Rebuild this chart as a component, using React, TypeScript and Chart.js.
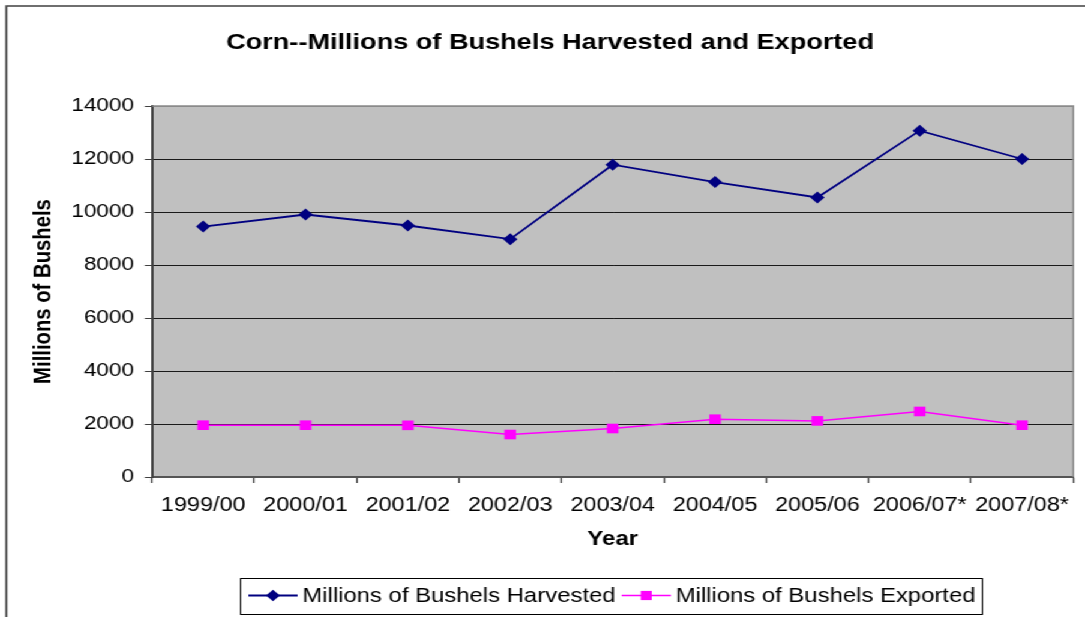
import React, { useEffect, useRef } from 'react';
import { Chart, registerables } from 'chart.js';

Chart.register(...registerables);

const chartTitle = 'Corn--Millions of Bushels Harvested and Exported';
const years = ['1999/00', '2000/01', '2001/02', '2002/03', '2003/04', '2004/05', '2005/06', '2006/07*', '2007/08*'];
const harvested = [9450, 9905, 9490, 8975, 11785, 11130, 10548, 13070, 12000];
const exported = [1955, 1955, 1950, 1603, 1830, 2181, 2117, 2473, 1955];
const seriesNames = ['Millions of Bushels Harvested', 'Millions of Bushels Exported'];
const seriesColors = ['#000080', '#FF00FF'];
const yAxisTitle = 'Millions of Bushels';
const xAxisTitle = 'Year';
const yMin = 0;
const yMax = 14000;
const yStep = 2000;

const FONT = '"Liberation Sans", Arial, Helvetica, sans-serif';
const CANVAS_W = 904;
const CANVAS_H = 617;
const STRETCH = 1085 / CANVAS_W;

function drawMarker(ctx: CanvasRenderingContext2D, kind: string, x: number, y: number, color: string) {
  ctx.fillStyle = color;
  ctx.beginPath();
  if (kind === 'diamond') {
    const r = 5.8;
    ctx.moveTo(x, y - r);
    ctx.lineTo(x + r, y);
    ctx.lineTo(x, y + r);
    ctx.lineTo(x - r, y);
    ctx.closePath();
  } else {
    const s = 4.6;
    ctx.rect(x - s, y - s, 2 * s, 2 * s);
  }
  ctx.fill();
}

const decorations = {
  id: 'decorations',
  beforeDraw(chart: any) {
    const { ctx, chartArea: a } = chart;
    ctx.save();
    ctx.fillStyle = '#ffffff';
    ctx.fillRect(0, 0, chart.width, chart.height);
    ctx.fillStyle = '#C0C0C0';
    ctx.fillRect(a.left, a.top, a.right - a.left, a.bottom - a.top);
    // outer frame (left and top edges)
    ctx.strokeStyle = '#404040';
    ctx.lineWidth = 1.7;
    ctx.beginPath();
    ctx.moveTo(5.3, chart.height + 4);
    ctx.lineTo(5.3, 6);
    ctx.lineTo(chart.width + 4, 6);
    ctx.stroke();
    // title
    ctx.fillStyle = '#000';
    ctx.font = `bold 22.6px ${FONT}`;
    ctx.textAlign = 'center';
    ctx.textBaseline = 'alphabetic';
    ctx.fillText(chartTitle, 458.3, 48.8);
    ctx.restore();
  },
  beforeDatasetsDraw(chart: any) {
    const { ctx, chartArea: a } = chart;
    ctx.save();
    ctx.strokeStyle = '#8a8a8a';
    ctx.lineWidth = 1.5;
    ctx.beginPath();
    ctx.moveTo(a.left, a.top);
    ctx.lineTo(a.right, a.top);
    ctx.lineTo(a.right, a.bottom);
    ctx.stroke();
    ctx.restore();
  },
  afterDraw(chart: any) {
    const { ctx } = chart;
    ctx.save();
    // legend box
    ctx.strokeStyle = '#000';
    ctx.lineWidth = 1;
    ctx.strokeRect(200.5, 578.5, 618, 36);
    ctx.font = `19.9px ${FONT}`;
    ctx.textAlign = 'left';
    ctx.textBaseline = 'alphabetic';
    let x = 207;
    const yc = 595.5;
    const kinds = ['diamond', 'square'];
    seriesNames.forEach((name, i) => {
      ctx.strokeStyle = seriesColors[i];
      ctx.lineWidth = i === 0 ? 1.8 : 1.5;
      ctx.beginPath();
      ctx.moveTo(x, yc);
      ctx.lineTo(x + 41, yc);
      ctx.stroke();
      drawMarker(ctx, kinds[i], x + 20.5, yc, seriesColors[i]);
      ctx.fillStyle = '#000';
      ctx.fillText(name, x + 45, 601.8);
      x += 45 + ctx.measureText(name).width + 5;
    });
    ctx.restore();
  },
};

export default function App() {
  const canvasRef = useRef<HTMLCanvasElement | null>(null);

  useEffect(() => {
    const canvas = canvasRef.current;
    if (!canvas) return;
    Chart.defaults.font.family = FONT;
    const chart = new Chart(canvas, {
      type: 'line',
      data: {
        labels: years,
        datasets: [
          {
            label: seriesNames[0],
            data: harvested,
            borderColor: seriesColors[0],
            backgroundColor: seriesColors[0],
            borderWidth: 1.8,
            pointStyle: 'rectRot',
            pointRadius: 6,
            pointBorderWidth: 0,
            pointBackgroundColor: seriesColors[0],
            tension: 0,
            fill: false,
          },
          {
            label: seriesNames[1],
            data: exported,
            borderColor: seriesColors[1],
            backgroundColor: seriesColors[1],
            borderWidth: 1.5,
            pointStyle: 'rect',
            pointRadius: 6.8,
            pointBorderWidth: 0,
            pointBackgroundColor: seriesColors[1],
            tension: 0,
            fill: false,
          },
        ],
      },
      options: {
        responsive: false,
        animation: false,
        devicePixelRatio: 1,
        layout: { padding: { left: 10, top: 106, right: 9.8, bottom: 60 } },
        plugins: {
          legend: { display: false },
          title: { display: false },
          tooltip: { enabled: false },
        },
        scales: {
          x: {
            type: 'category',
            offset: true,
            grid: {
              offset: true,
              drawOnChartArea: false,
              drawTicks: true,
              tickLength: 6,
              tickColor: '#404040',
              tickWidth: 1.3,
            },
            border: { color: '#555555', width: 2 },
            ticks: { color: '#000', font: { size: 19.5 }, padding: 11, maxRotation: 0, autoSkip: false },
            title: {
              display: true,
              text: xAxisTitle,
              color: '#000',
              font: { size: 20, weight: 'bold' },
              padding: { top: 0, bottom: 6 },
            },
            afterFit: (s: any) => {
              s.height = 80;
            },
          },
          y: {
            min: yMin,
            max: yMax,
            ticks: {
              stepSize: yStep,
              color: '#000',
              font: { size: 18.8 },
              padding: 9,
              callback: (v: any) => String(v),
            },
            grid: {
              color: (c: any) => (c.tick && c.tick.value === yMax ? '#8a8a8a' : '#1a1a1a'),
              lineWidth: 1,
              tickLength: 6,
              tickColor: '#404040',
            },
            border: { color: '#404040', width: 2 },
            title: {
              display: true,
              text: yAxisTitle,
              color: '#000',
              font: { size: 20.3, weight: 'bold' },
              padding: { top: 14.5, bottom: 0 },
            },
            afterFit: (s: any) => {
              s.width = 116.7;
            },
          },
        },
      },
      plugins: [decorations],
    } as any);
    return () => chart.destroy();
  }, []);

  return (
    <div
      style={{
        position: 'fixed',
        left: 0,
        top: 0,
        width: CANVAS_W,
        height: CANVAS_H,
        transform: `scaleX(${STRETCH})`,
        transformOrigin: '0 0',
        background: '#fff',
      }}
    >
      <canvas ref={canvasRef} width={CANVAS_W} height={CANVAS_H} style={{ display: 'block' }} />
    </div>
  );
}
